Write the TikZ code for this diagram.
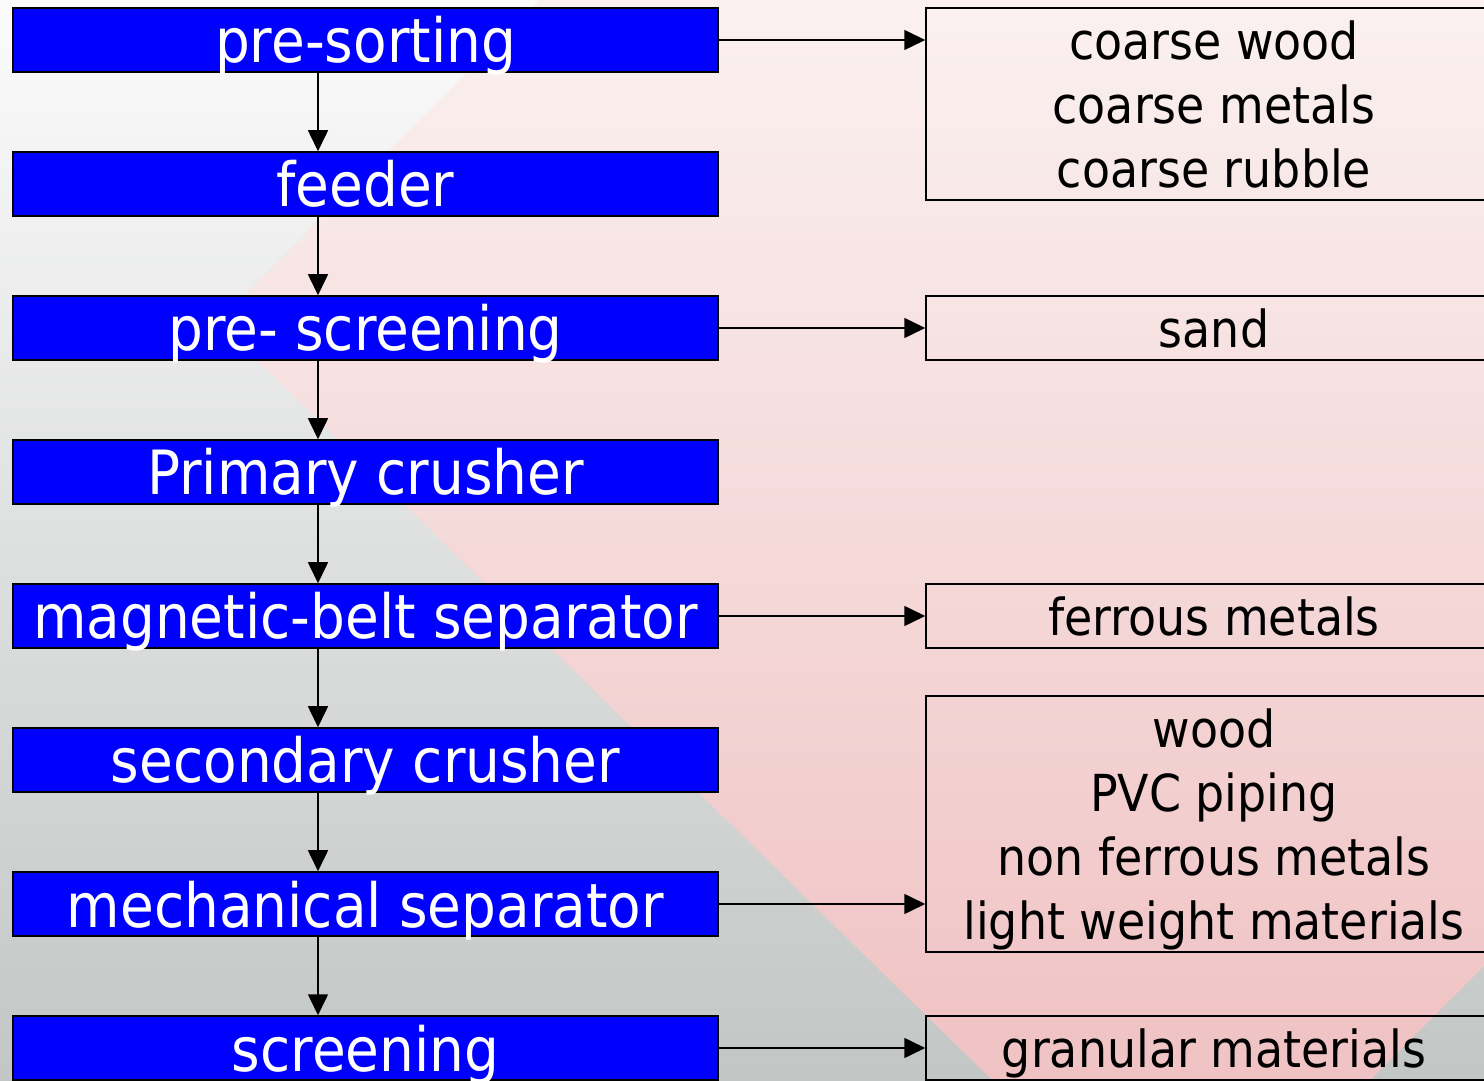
\documentclass[tikz,border=0pt]{standalone}
\usepackage{amsmath}
\usepackage{xcolor}
\usepackage{fontspec}
\setmainfont[FakeStretch=0.9]{DejaVu Sans}
\usetikzlibrary{arrows.meta}

\definecolor{bgtop}{RGB}{251,251,251}
\definecolor{bgbot}{RGB}{194,198,196}
\definecolor{pinktop}{RGB}{250,241,240}
\definecolor{pinkbot}{RGB}{240,194,195}

\tikzset{
  stepbox/.style={draw=black, line width=1.5pt, fill=blue, text=white, inner sep=0pt,
    minimum width=705pt, minimum height=64pt, text height=46pt, text depth=0pt,
    font=\fontsize{61}{64}\selectfont},
  outbox/.style={draw=black, line width=1.5pt, inner sep=0pt, align=center,
    minimum width=576pt, minimum height=64pt, font=\fontsize{51}{64}\selectfont},
  oneline/.style={text height=39pt, text depth=0pt},
  flow/.style={-{Triangle[length=21pt,width=20pt]}, line width=1.6pt}
}

\begin{document}
\begin{tikzpicture}[x=1pt,y=1pt]
   \useasboundingbox (0,0) rectangle (1484,1080);
   \clip (0,0) rectangle (1484,1080);
   % background
   \shade[top color=bgtop, bottom color=bgbot] (0,0) rectangle (1484,1080);
   \begin{scope}
     \clip (218,758) -- (1036,1576) -- (2000,630) -- (1183,-187) -- cycle;
     \shade[top color=pinktop, bottom color=pinkbot] (0,0) rectangle (1484,1080);
   \end{scope}

   % process steps, top to bottom
   \foreach \t [count=\i] in {pre-sorting, feeder, pre- screening, Primary crusher,
       magnetic-belt separator, secondary crusher, mechanical separator, screening}
     \node[stepbox] (b\i) at (365.5,1184-144*\i) {\t};

   \coordinate (ax) at (318,0);
   \foreach \i/\j in {1/2,2/3,3/4,4/5,5/6,6/7,7/8} % edit here for the down arrows
     \draw[flow] (b\i.south -| ax) -- (b\j.north -| ax);

   % what is taken out
   \node[outbox, minimum height=192pt] (o1) at (1214,976) {coarse wood\\coarse metals\\coarse rubble};
   \node[outbox, oneline] (o2) at (1214,752) {sand};
   \node[outbox, oneline] (o3) at (1214,464) {ferrous metals};
   \node[outbox, minimum height=256pt] (o4) at (1214,256)
     {wood\\PVC piping\\non ferrous metals\\\smash[b]{light weight materials}};
   \node[outbox, oneline] (o5) at (1214,32) {granular materials};

   \draw[flow] (b1.east) -- (o1.west |- b1.east);
   \draw[flow] (b3.east) -- (o2.west);
   \draw[flow] (b5.east) -- (o3.west);
   \draw[flow] (b7.east) -- (o4.west |- b7.east);
   \draw[flow] (b8.east) -- (o5.west);
\end{tikzpicture}
\end{document}
